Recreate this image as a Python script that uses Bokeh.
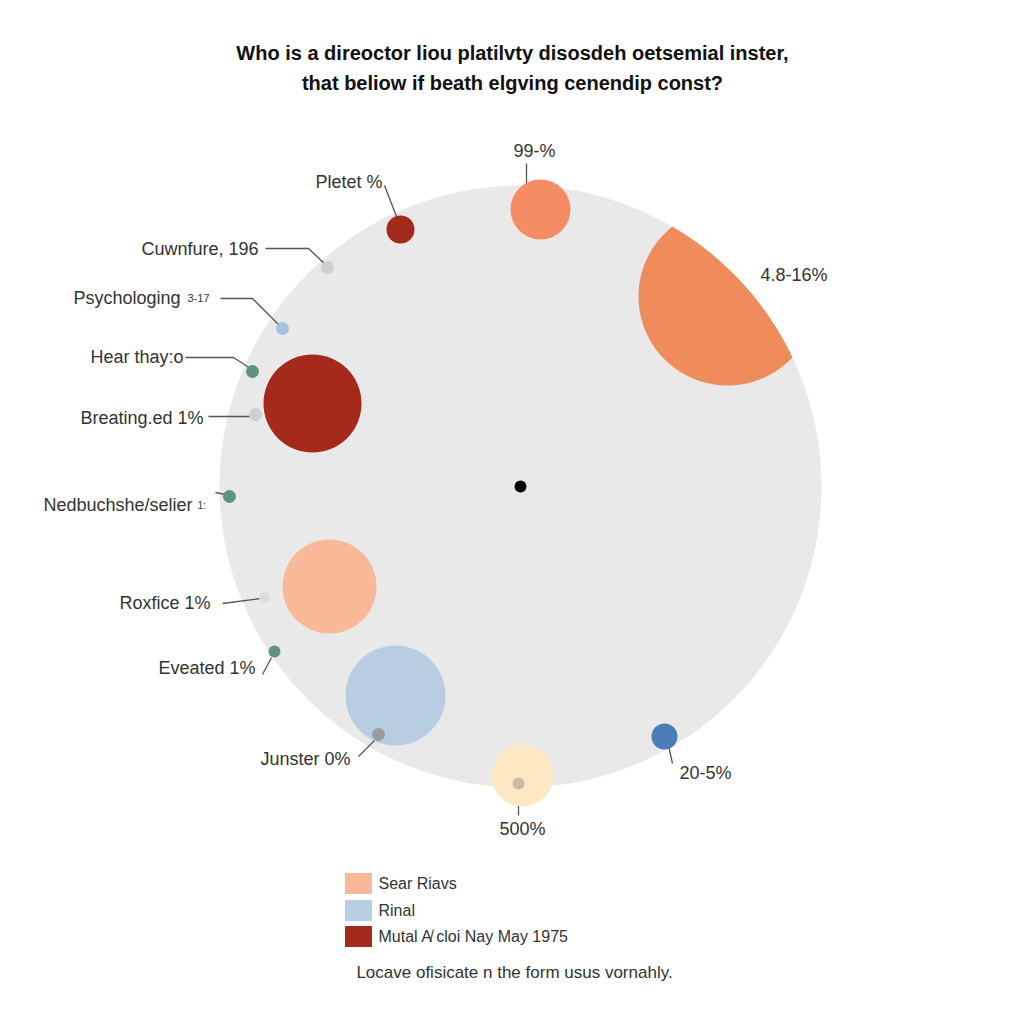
import numpy as np
from bokeh.plotting import figure
from bokeh.models import Range1d
from bokeh.core.properties import value
from bokeh.embed import file_html
from bokeh.resources import INLINE

FONT = "Liberation Sans"

title_lines = ["Who is a direoctor liou platilvty disosdeh oetsemial inster,",
               "that beliow if beath elgving cenendip const?"]
title_y = [52, 82]

# background disc
disc_x, disc_y, disc_r = [520], [486], [301]

# bubbles (x, y, radius, colour)
bub_x = [540, 400, 327, 282, 252, 255, 312, 229, 329, 264, 274, 395, 378, 522, 518, 664, 520]
bub_y = [209, 229, 267, 328, 371, 414, 403, 496, 586, 597, 651, 695, 734, 775, 783, 736, 486]
bub_r = [30, 14, 6.5, 6.5, 6.5, 6.5, 49, 6.5, 47, 5.5, 6, 50, 6.5, 31, 6, 13, 6]
bub_c = ["#f58c63", "#a3291b", "#cfcfd1", "#a3c3e1", "#5e957a", "#cfcfd1", "#a52a1c",
         "#5e957a", "#f9b898", "#dcdcde", "#5e957a", "#b6cde2", "#9a9a9e", "#fde8c3",
         "#c9bca6", "#4c7db9", "#000000"]

# clipped segment in the upper right
seg_cx, seg_cy, seg_r = 727, 296, 89
seg_color = "#f08c5c"

# labels
lab_text = ["99-%", "Pletet %", "Cuwnfure, 196", "Psychologing", "3-17", "Hear thay:o",
            "Breating.ed 1%", "Nedbuchshe/selier", "1:", "Roxfice 1%", "Eveated 1%",
            "Junster 0%", "500%", "20-5%", "4.8-16%"]
lab_x = [534, 382, 258, 180, 187, 183, 203, 192, 197, 210, 255, 350, 522, 679, 760]
lab_y = [150, 181, 248, 297, 297, 356, 417, 504, 505, 602, 667, 758, 828, 772, 274]
lab_align = ["center", "right", "right", "right", "left", "right", "right", "right", "left",
             "right", "right", "right", "center", "left", "left"]
lab_size = ["18px"] * 15
lab_size[4] = "11px"
lab_size[8] = "10px"

# leader lines
lead_xs = [[526, 526], [384, 396], [265, 308, 325], [220, 252, 279], [185, 233, 250],
           [208, 250], [215, 225], [222, 260], [262, 271], [358, 376], [518, 518], [668, 672]]
lead_ys = [[163, 188], [185, 216], [248, 248, 264], [298, 298, 325], [357, 357, 368],
           [416, 416], [492, 494], [603, 598], [674, 657], [756, 738], [786, 815], [745, 763]]

# legend
leg_text = ["Sear Riavs", "Rinal", "Mutal A\u0338 cloi Nay May 1975"]
leg_color = ["#f9b898", "#b6cde2", "#a52a1c"]
leg_y = [883, 910, 936]
leg_x = 358

footer = "Locave ofisicate n the form usus vornahly."

p = figure(width=1008, height=1008, output_backend="svg", toolbar_location=None,
           x_range=Range1d(0, 1008), y_range=Range1d(1008, 0), min_border=0)
p.axis.visible = False
p.grid.visible = False
p.outline_line_color = None
p.background_fill_color = "#ffffff"
p.border_fill_color = "#ffffff"

p.circle(disc_x, disc_y, radius=disc_r, fill_color="#e9e9ea", line_color=None)

# segment = circle clipped to disc
th = np.linspace(0, 2 * np.pi, 400)
px = seg_cx + seg_r * np.cos(th)
py = seg_cy + seg_r * np.sin(th)
dx, dy = px - disc_x[0], py - disc_y[0]
d = np.hypot(dx, dy)
k = np.minimum(1.0, disc_r[0] / d)
p.patch(disc_x[0] + dx * k, disc_y[0] + dy * k, fill_color=seg_color, line_color=None)

p.multi_line(lead_xs, lead_ys, line_color="#555555", line_width=1.3)
p.circle(bub_x, bub_y, radius=bub_r, fill_color=bub_c, line_color=None)

for t, x, y, a, s in zip(lab_text, lab_x, lab_y, lab_align, lab_size):
    p.text([x], [y], text=[t], text_align=a, text_baseline="middle",
           text_font=value(FONT), text_font_size=s, text_color="#333333")

p.text([512, 512], title_y, text=title_lines, text_align="center", text_baseline="middle",
       text_font=value(FONT), text_font_size="20px", text_font_style="bold",
       text_color="#111111")

p.rect([leg_x] * 3, leg_y, width=27, height=21, fill_color=leg_color, line_color=None)
p.text([leg_x + 20] * 3, leg_y, text=leg_text, text_align="left", text_baseline="middle",
       text_font=value(FONT), text_font_size="16px", text_color="#333333")

p.text([514], [972], text=[footer], text_align="center", text_baseline="middle",
       text_font=value(FONT), text_font_size="17px", text_color="#333333")

open("out.html", "w").write(file_html(p, INLINE))
